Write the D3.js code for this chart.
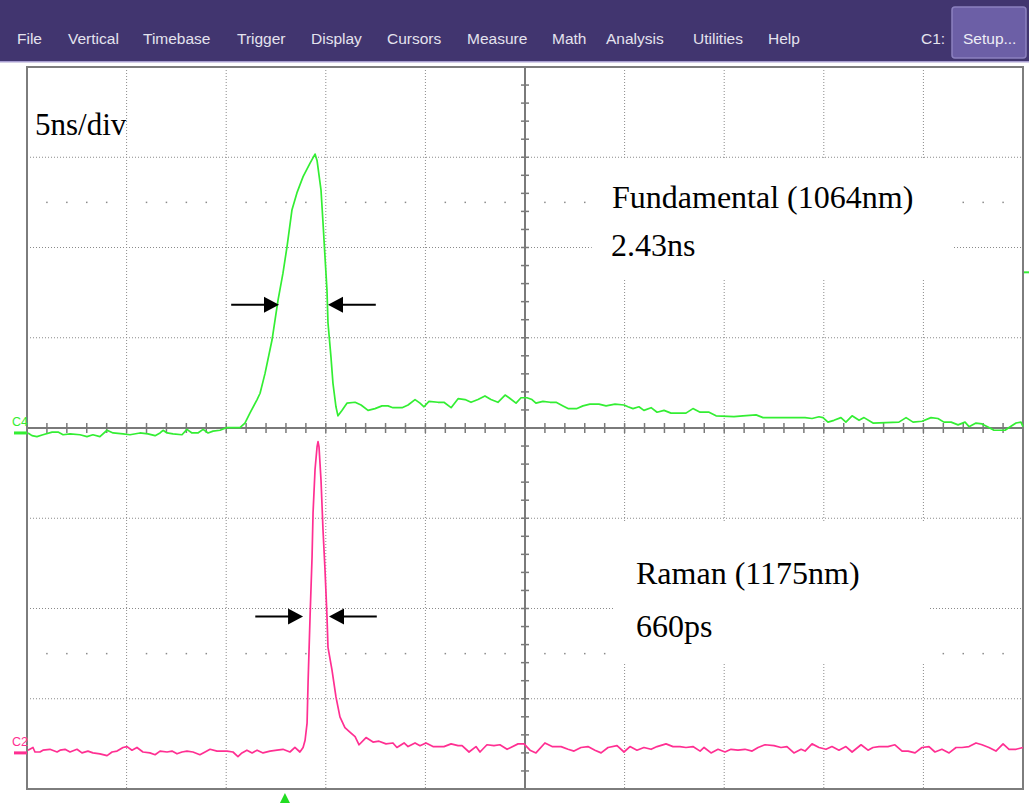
<!DOCTYPE html>
<html>
<head>
<meta charset="utf-8">
<script src="https://cdn.jsdelivr.net/npm/d3@7/dist/d3.min.js"></script>
<style>
  html, body { margin: 0; padding: 0; background: #ffffff; }
  svg { display: block; }
</style>
</head>
<body>
<svg id="scope" width="1029" height="805"></svg>
<script>
// ---- Menu bar ----
const menuItems = ["File", "Vertical", "Timebase", "Trigger", "Display", "Cursors", "Measure", "Math", "Analysis", "Utilities", "Help"];
const menuX = [17, 68, 143, 237, 311, 387, 467, 552, 606, 693, 768];

// ---- Timebase / graticule ----
const timePerDivNs = 5;
const hDivs = 10;
const vDivs = 8;

// ---- C4: fundamental (1064 nm), time in ns, level in divisions above channel ground ----
const c4Time = [
  -24.95, -24.75, -24.5, -24.2, -23.74, -23.44, -23.19, -22.84, -22.34, -21.99, -21.69, -21.34,
  -20.98, -20.68, -20.18, -19.83, -19.33, -18.93, -18.57, -18.32, -18.17, -17.97, -17.67, -17.22,
  -16.97, -16.72, -16.42, -16.16, -15.91, -15.66, -15.31, -14.96, -14.31, -14.06, -13.81, -13.45,
  -13.3, -13.05, -12.7, -12.4, -12.15, -11.95, -11.7, -11.45, -11.14, -10.79, -10.54, -10.44,
  -10.24, -10.14, -10.04, -9.94, -9.89, -9.74, -9.64, -9.49, -9.39, -9.19, -8.94, -8.53,
  -8.23, -7.88, -7.53, -7.18, -6.88, -6.63, -6.17, -5.87, -5.52, -5.27, -5.07, -4.82,
  -4.37, -4.07, -3.71, -3.36, -3.01, -2.71, -2.36, -2.01, -1.71, -1.36, -1.0, -0.8,
  -0.45, -0.2, 0.1, 0.35, 0.55, 0.9, 1.26, 1.56, 1.91, 2.16, 2.61, 2.91,
  3.26, 3.71, 4.07, 4.52, 4.97, 5.17, 5.42, 5.72, 5.97, 6.33, 6.63, 6.98,
  7.33, 8.08, 8.43, 8.79, 9.24, 9.59, 10.49, 10.94, 11.6, 11.95, 13.3, 14.06,
  14.41, 14.76, 14.96, 15.21, 15.51, 15.86, 16.11, 16.42, 16.77, 17.02, 17.47, 18.77,
  19.13, 19.48, 19.93, 20.38, 20.73, 21.03, 21.39, 21.74, 22.09, 22.29, 22.64, 22.94,
  23.29, 23.54, 24.1, 24.3, 24.65, 24.9, 25.0
];
const c4Level = [
  0, -0.03, -0.04, -0.02, 0.01, 0.01, -0.02, -0.01, -0.02, -0.04, -0.02, -0.04,
  0.03, 0, -0.01, -0.02, 0, -0.01, -0.03, 0, 0.03, 0, -0.01, -0.02,
  0.04, 0, 0, 0.04, 0, 0.02, 0.03, 0.06, 0.06, 0.11, 0.22, 0.37,
  0.44, 0.66, 1.03, 1.47, 1.77, 2.06, 2.47, 2.66, 2.84, 2.99, 3.09, 3.02,
  2.69, 2.33, 1.95, 1.58, 1.22, 0.84, 0.55, 0.29, 0.19, 0.25, 0.33, 0.34,
  0.31, 0.25, 0.27, 0.3, 0.3, 0.28, 0.28, 0.31, 0.37, 0.33, 0.29, 0.35,
  0.34, 0.34, 0.28, 0.38, 0.37, 0.34, 0.37, 0.41, 0.37, 0.34, 0.42, 0.39,
  0.33, 0.39, 0.39, 0.37, 0.33, 0.35, 0.34, 0.34, 0.3, 0.27, 0.27, 0.3,
  0.32, 0.32, 0.3, 0.32, 0.31, 0.29, 0.27, 0.29, 0.25, 0.28, 0.23, 0.25,
  0.22, 0.22, 0.27, 0.23, 0.23, 0.19, 0.18, 0.19, 0.2, 0.17, 0.17, 0.17,
  0.16, 0.18, 0.17, 0.12, 0.14, 0.17, 0.12, 0.19, 0.14, 0.17, 0.11, 0.12,
  0.17, 0.12, 0.13, 0.17, 0.16, 0.12, 0.12, 0.09, 0.12, 0.07, 0.11, 0.1,
  0.06, 0.03, 0.03, 0.06, 0.11, 0.12, 0.07
];

// ---- C2: Raman (1175 nm), time in ns, level in divisions above channel ground ----
const c2Time = [
  -24.95, -24.7, -24.6, -24.35, -24.2, -23.85, -23.49, -23.34, -23.09, -22.84, -22.49, -22.24,
  -21.94, -21.69, -21.34, -20.98, -20.73, -20.48, -20.18, -19.98, -19.73, -19.48, -19.18, -18.83,
  -18.57, -18.32, -17.97, -17.72, -17.47, -17.22, -16.97, -16.67, -16.32, -16.06, -15.81, -15.46,
  -14.96, -14.66, -14.41, -14.21, -13.96, -13.7, -13.45, -13.15, -12.8, -12.45, -12.15, -11.8,
  -11.55, -11.3, -11.14, -11.04, -10.94, -10.89, -10.79, -10.69, -10.64, -10.54, -10.44, -10.39,
  -10.34, -10.24, -10.14, -10.04, -9.94, -9.89, -9.69, -9.49, -9.29, -9.04, -8.79, -8.53,
  -8.33, -7.98, -7.63, -7.33, -6.98, -6.63, -6.43, -6.07, -5.87, -5.52, -5.27, -4.97,
  -4.62, -4.07, -3.71, -3.36, -3.16, -2.81, -2.46, -2.26, -1.91, -1.56, -1.26, -0.9,
  -0.35, -0.05, 0.25, 0.55, 1.0, 1.36, 1.81, 2.16, 2.46, 2.81, 3.16, 3.51,
  3.82, 4.17, 4.62, 4.97, 5.27, 5.62, 5.97, 6.33, 6.63, 7.08, 7.43, 7.78,
  8.08, 8.43, 8.79, 8.99, 9.34, 9.69, 10.04, 10.34, 10.69, 11.04, 11.4, 11.7,
  12.05, 12.5, 12.85, 13.15, 13.5, 13.86, 14.06, 14.41, 14.76, 15.11, 15.41, 15.76,
  16.11, 16.42, 16.87, 17.22, 17.47, 17.77, 18.22, 18.57, 18.93, 19.23, 19.58, 19.93,
  20.28, 20.58, 20.93, 21.29, 21.64, 21.94, 22.29, 22.64, 22.94, 23.29, 23.64, 24.0,
  24.3, 24.65, 25.0
];
const c2Level = [
  0.03, 0.06, 0.01, 0.01, 0.03, 0.04, 0.01, 0.03, 0.04, 0.01, 0.04, 0,
  0.02, 0, -0.01, -0.03, 0.01, 0.02, 0.06, 0.07, 0.03, 0.06, 0.01, 0,
  -0.02, 0.02, 0.01, 0.02, -0.01, 0.01, 0.02, 0.01, -0.02, 0.01, 0.04, 0.02,
  0.02, 0.01, -0.04, 0, 0.03, 0, 0.03, 0, 0.02, 0.03, 0.04, 0.01,
  0.06, 0.01, 0.06, 0.14, 0.33, 0.78, 1.51, 2.17, 2.66, 3.14, 3.39, 3.45,
  3.39, 3.02, 2.47, 2.03, 1.51, 1.17, 0.92, 0.62, 0.4, 0.28, 0.23, 0.18,
  0.09, 0.17, 0.12, 0.13, 0.1, 0.11, 0.06, 0.11, 0.07, 0.11, 0.08, 0.11,
  0.07, 0.07, 0.1, 0.08, 0.08, 0.01, 0.07, 0.01, 0.09, 0.08, 0.09, 0.04,
  0.1, 0.1, 0.03, 0, 0.11, 0.07, 0.07, 0.04, 0.02, 0.06, 0.07, 0.03,
  0, 0.06, 0.08, 0.01, 0.07, 0.03, 0.06, 0.04, 0.07, 0.1, 0.07, 0.07,
  0.06, 0.07, 0.02, 0.06, 0, 0.04, 0.01, 0.04, 0.03, 0.04, 0.02, 0.06,
  0.09, 0.08, 0.06, 0.07, 0, 0.04, 0.02, 0.1, 0.06, 0.04, 0.07, 0.03,
  0.07, 0.01, 0.09, 0.03, 0.06, 0.07, 0.07, 0.09, 0.02, 0.02, 0, 0.06,
  0.07, 0.01, 0.04, 0, 0.06, 0.06, 0.07, 0.11, 0.09, 0.06, 0.02, 0.1,
  0.04, 0.04, 0.06
];

// ---- Channel setup: ground offset (divisions from screen centre) ----
const channels = [
  { name: "C4", offsetDiv: -0.055, color: "#33ee33", time: c4Time, level: c4Level },
  { name: "C2", offsetDiv: -3.6, color: "#ff2f92", time: c2Time, level: c2Level }
];

// ---- FWHM markers: level (div above ground) and the two edge times (ns) ----
const fwhmMarks = [
  { channel: 0, level: 1.42, tLeft: -12.35, tRight: -9.89 },
  { channel: 1, level: 1.51, tLeft: -11.14, tRight: -9.84 }
];
const arrowLengthNs = 2.4;

const annotations = {
  timebase: "5ns/div",
  c4: ["Fundamental (1064nm)", "2.43ns"],
  c2: ["Raman (1175nm)", "660ps"]
};

const triggerTimeNs = -12.05;
const c4TriggerLevelDiv = 1.78;

// ------------------------------------------------------------------
const svg = d3.select("#scope");
const W = 1029, H = 805;
const plot = { left: 27, right: 1023, top: 67, bottom: 789 };

const x = d3.scaleLinear()
  .domain([-timePerDivNs * hDivs / 2, timePerDivNs * hDivs / 2])
  .range([plot.left, plot.right]);
const y = d3.scaleLinear().domain([-vDivs / 2, vDivs / 2]).range([plot.bottom, plot.top]);
const xDiv = d3.scaleLinear().domain([-hDivs / 2, hDivs / 2]).range([plot.left, plot.right]);

// Menu bar
const uiFont = "Liberation Sans, Arial, sans-serif";
svg.append("rect").attr("x", 0).attr("y", 0).attr("width", W).attr("height", 61).attr("fill", "#41356f");
svg.append("rect").attr("x", 0).attr("y", 61).attr("width", W).attr("height", 1.5).attr("fill", "#a79dd0");
svg.append("g").selectAll("text").data(menuItems).join("text")
  .attr("x", (d, i) => menuX[i]).attr("y", 44)
  .attr("font-family", uiFont).attr("font-size", 15.5)
  .attr("fill", "#e4e2ee").text(d => d);
svg.append("text").attr("x", 921).attr("y", 44)
  .attr("font-family", uiFont).attr("font-size", 15.5)
  .attr("fill", "#e4e2ee").text("C1:");
svg.append("rect").attr("x", 952).attr("y", 7).attr("width", 74).attr("height", 51).attr("rx", 3)
  .attr("fill", "#6c5fa6").attr("stroke", "#8c81c0").attr("stroke-width", 1.5);
svg.append("text").attr("x", 963).attr("y", 44)
  .attr("font-family", uiFont).attr("font-size", 15.5)
  .attr("fill", "#eeeef6").text("Setup...");

// Graticule
const grid = svg.append("g");
const dotted = { stroke: "#8a8a8a", dash: "1,2" };
d3.range(-hDivs / 2 + 1, hDivs / 2).filter(d => d !== 0).forEach(d => {
  grid.append("line").attr("x1", xDiv(d)).attr("x2", xDiv(d)).attr("y1", plot.top).attr("y2", plot.bottom)
    .attr("stroke", dotted.stroke).attr("stroke-dasharray", dotted.dash);
});
d3.range(-vDivs / 2 + 1, vDivs / 2).filter(d => d !== 0).forEach(d => {
  grid.append("line").attr("x1", plot.left).attr("x2", plot.right).attr("y1", y(d)).attr("y2", y(d))
    .attr("stroke", dotted.stroke).attr("stroke-dasharray", dotted.dash);
});
// minor dot rows at +/- 2.5 div
[2.5, -2.5].forEach(v => {
  d3.range(-hDivs / 2 + 0.2, hDivs / 2, 0.2).forEach(d => {
    if (Math.abs(d - Math.round(d)) < 0.01) return;
    grid.append("rect").attr("x", xDiv(d) - 0.75).attr("y", y(v) - 0.75).attr("width", 1.5).attr("height", 1.5)
      .attr("fill", "#8a8a8a");
  });
});

// Label boxes (white) that hide the graticule behind the annotations
const boxes = [
  { x0: 0.67, x1: 4.3, y0: 2.98, y1: 1.64 },
  { x0: 0.89, x1: 4.06, y0: -1.04, y1: -2.6 }
];
boxes.forEach(b => {
  svg.append("rect").attr("x", xDiv(b.x0)).attr("y", y(b.y0))
    .attr("width", xDiv(b.x1) - xDiv(b.x0)).attr("height", y(b.y1) - y(b.y0)).attr("fill", "#ffffff");
});

// Centre axes with minor ticks
const axes = svg.append("g").attr("stroke", "#7a7a7a");
axes.append("line").attr("x1", plot.left).attr("x2", plot.right).attr("y1", y(0)).attr("y2", y(0)).attr("stroke-width", 2);
axes.append("line").attr("x1", xDiv(0)).attr("x2", xDiv(0)).attr("y1", plot.top).attr("y2", plot.bottom).attr("stroke-width", 2);
d3.range(-hDivs / 2 + 0.2, hDivs / 2 - 0.1, 0.2).forEach(d => {
  axes.append("line").attr("x1", xDiv(d)).attr("x2", xDiv(d)).attr("y1", y(0) - 5).attr("y2", y(0) + 5).attr("stroke-width", 1.5);
});
d3.range(-vDivs / 2 + 0.2, vDivs / 2 - 0.1, 0.2).forEach(d => {
  axes.append("line").attr("x1", xDiv(0) - 4).attr("x2", xDiv(0) + 4).attr("y1", y(d)).attr("y2", y(d)).attr("stroke-width", 1.5);
});

// Frame
svg.append("rect").attr("x", plot.left).attr("y", plot.top)
  .attr("width", plot.right - plot.left).attr("height", plot.bottom - plot.top)
  .attr("fill", "none").attr("stroke", "#7d7d7d").attr("stroke-width", 2);

// Traces
channels.forEach(ch => {
  const pts = ch.time.map((t, i) => [t, ch.level[i] + ch.offsetDiv]);
  const line = d3.line().x(d => x(d[0])).y(d => y(d[1]));
  svg.append("path").datum(pts).attr("d", line)
    .attr("fill", "none").attr("stroke", ch.color).attr("stroke-width", 1.7).attr("stroke-linejoin", "round");
  // ground marker and label at left edge
  svg.append("rect").attr("x", 14).attr("y", y(ch.offsetDiv) - 1.5).attr("width", 13).attr("height", 3).attr("fill", ch.color);
  svg.append("text").attr("x", 12).attr("y", y(ch.offsetDiv) - 7)
    .attr("font-family", uiFont).attr("font-size", 12.5)
    .attr("fill", ch.color).text(ch.name);
});

// C4 trigger level marker on right edge
svg.append("line").attr("x1", plot.right + 1).attr("x2", W).attr("y1", y(c4TriggerLevelDiv + channels[0].offsetDiv))
  .attr("y2", y(c4TriggerLevelDiv + channels[0].offsetDiv)).attr("stroke", "#33ee33").attr("stroke-width", 2);

// Trigger position marker below graticule
const tx = x(triggerTimeNs);
svg.append("path").attr("d", `M${tx - 5},803 L${tx + 5},803 L${tx},793 Z`).attr("fill", "#22dd22");

// FWHM arrows
const arrowG = svg.append("g");
fwhmMarks.forEach(m => {
  const ch = channels[m.channel];
  const yy = y(m.level + ch.offsetDiv);
  [[m.tLeft, m.tLeft - arrowLengthNs, 1], [m.tRight, m.tRight + arrowLengthNs, -1]].forEach(([tip, tail, dir]) => {
    const xt = x(tip), xs = x(tail);
    arrowG.append("line").attr("x1", xs).attr("x2", xt - dir * 12).attr("y1", yy).attr("y2", yy)
      .attr("stroke", "#000").attr("stroke-width", 2);
    arrowG.append("path").attr("d", `M${xt},${yy} L${xt - dir * 15},${yy - 8} L${xt - dir * 15},${yy + 8} Z`).attr("fill", "#000");
  });
});

// Annotation text
const serif = "Liberation Serif, Times New Roman, serif";
svg.append("text").attr("x", 35).attr("y", 135).attr("font-family", serif).attr("font-size", 31).attr("fill", "#000").text(annotations.timebase);
svg.append("text").attr("x", 612).attr("y", 208).attr("font-family", serif).attr("font-size", 32).attr("fill", "#000").text(annotations.c4[0]);
svg.append("text").attr("x", 611).attr("y", 256).attr("font-family", serif).attr("font-size", 32).attr("fill", "#000").text(annotations.c4[1]);
svg.append("text").attr("x", 636).attr("y", 584).attr("font-family", serif).attr("font-size", 32).attr("fill", "#000").text(annotations.c2[0]);
svg.append("text").attr("x", 636).attr("y", 637).attr("font-family", serif).attr("font-size", 32).attr("fill", "#000").text(annotations.c2[1]);
</script>
</body>
</html>
